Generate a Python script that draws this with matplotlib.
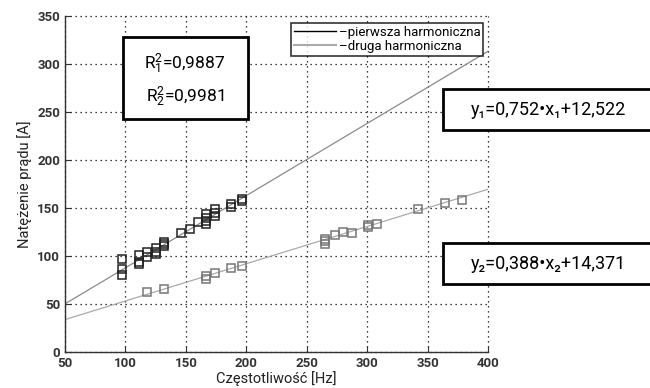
import matplotlib
matplotlib.use("Agg")
import matplotlib.pyplot as plt
import numpy as np

plt.rcParams['font.family'] = ['Roboto', 'DejaVu Sans']
plt.rcParams['mathtext.fontset'] = 'custom'
plt.rcParams['mathtext.rm'] = 'Roboto'
plt.rcParams['mathtext.it'] = 'Roboto'

# data: first harmonic
x1 = [97, 97, 97, 111, 111, 111, 118, 118, 125, 125, 125, 132, 132, 132, 146, 153, 160,
      167, 167, 167, 167, 174, 174, 174, 187, 187, 196, 196]
y1 = [97, 86, 80, 101, 94, 92, 104, 99, 108, 104, 102, 115, 113, 110, 124, 128, 135,
      144, 140, 136, 133, 149, 145, 142, 154, 151, 159, 157]
# second harmonic
x2 = [118, 132, 167, 167, 174, 187, 196, 265, 265, 265, 273, 280, 287, 301, 301, 308, 342, 364, 378]
y2 = [63, 66, 76, 79, 82, 87, 90, 118, 116, 113, 122, 125, 124, 132, 130, 133, 149, 155, 158]

a1, b1 = 0.752, 12.522
a2, b2 = 0.388, 14.371

xticks = [50, 100, 150, 200, 250, 300, 350, 400]
yticks = [0, 50, 100, 150, 200, 250, 300, 350]

fig = plt.figure(figsize=(6.5, 3.88), dpi=100)
ax = fig.add_axes([0.1, 0.0928, 0.651, 0.866])

xx = np.array([50, 400])
ax.plot(xx, a1 * xx + b1, color='#8a8a8a', lw=0.9, zorder=2)
ax.plot(xx, a2 * xx + b2, color='#aaaaaa', lw=0.9, zorder=2)
ax.plot(x1, y1, ls='none', marker='s', ms=6.3, mfc='none', mec='#222222', mew=1.1, zorder=3)
ax.plot(x2, y2, ls='none', marker='s', ms=6.3, mfc='none', mec='#777777', mew=1.1, zorder=3)

ax.set_xlim(50, 400)
ax.set_ylim(0, 350)
ax.set_xticks(xticks)
ax.set_yticks(yticks)
ax.grid(True, color='black', ls=(0, (1, 3)), lw=0.9)
for gl in ax.get_xgridlines() + ax.get_ygridlines():
    gl.set_clip_on(False)
for s in ['top', 'right']:
    ax.spines[s].set_visible(False)
for s in ['left', 'bottom']:
    ax.spines[s].set_color('#333333')
    ax.spines[s].set_linewidth(1.0)
ax.tick_params(direction='in', length=4, colors='#333333', labelsize=9.5)
for lab in ax.get_xticklabels() + ax.get_yticklabels():
    lab.set_fontweight('bold')
    lab.set_color('#333333')
ax.set_xlabel('Częstotliwość [Hz]', fontsize=10.5, color='#222222', labelpad=1)
ax.set_ylabel('Natężenie prądu [A]', fontsize=10.5, color='#222222', labelpad=4)

# legend
h1, = ax.plot([], [], color='black', lw=1.0)
h2, = ax.plot([], [], color='#aaaaaa', lw=1.5)
leg = ax.legend([h1, h2], ['–pierwsza harmoniczna', '–druga harmoniczna'],
                loc='upper right', bbox_to_anchor=(0.988, 0.979), fontsize=9.5,
                frameon=True, fancybox=False, handlelength=3.2, handletextpad=0.2,
                borderpad=0.2, labelspacing=0.1, borderaxespad=0)
leg.get_frame().set_edgecolor('black')
leg.get_frame().set_linewidth(1.2)

# R^2 box
fig.patches.append(plt.Rectangle((123 / 650, 1 - 119 / 388), 125 / 650, 82 / 388,
                                 transform=fig.transFigure, fill=True, fc='white',
                                 ec='black', lw=2, zorder=5))
fig.text(185 / 650, 1 - 64 / 388, r'$\mathregular{R_1^2}$=0,9887', ha='center', va='center',
         fontsize=12.5, zorder=6)
fig.text(185 / 650, 1 - 97 / 388, r'$\mathregular{R_2^2}$=0,9981', ha='center', va='center',
         fontsize=12.5, zorder=6)

# equation boxes
fig.patches.append(plt.Rectangle((443 / 650, 1 - 130 / 388), 215 / 650, 41 / 388,
                                 transform=fig.transFigure, fill=True, fc='white',
                                 ec='black', lw=2, zorder=5))
fig.text(548 / 650, 1 - 110 / 388, 'y₁=0,752•x₁+12,522', ha='center', va='center',
         fontsize=13, zorder=6)
fig.patches.append(plt.Rectangle((443 / 650, 1 - 284 / 388), 215 / 650, 41 / 388,
                                 transform=fig.transFigure, fill=True, fc='white',
                                 ec='black', lw=2, zorder=5))
fig.text(548 / 650, 1 - 264 / 388, 'y₂=0,388•x₂+14,371', ha='center', va='center',
         fontsize=13, zorder=6)

fig.savefig('out.png', dpi=100)
